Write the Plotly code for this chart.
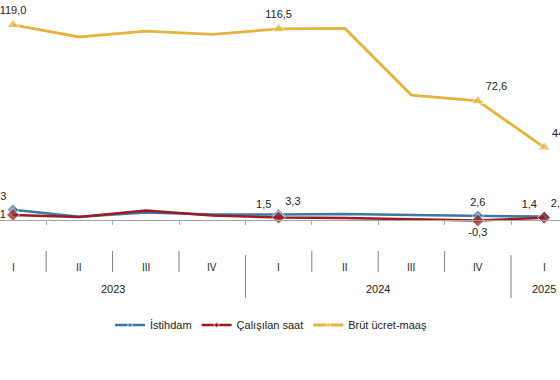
import plotly.graph_objects as go

# ---- data ----
quarters = ["I", "II", "III", "IV", "I", "II", "III", "IV", "I"]
years = ["2023", "2023", "2023", "2023", "2024", "2024", "2024", "2024", "2025"]

istihdam = [6.3, 2.0, 4.6, 3.3, 3.3, 3.6, 3.0, 2.6, 2.1]
calisilan_saat = [3.1, 1.9, 5.8, 2.8, 1.5, 1.2, 0.4, -0.3, 1.4]
brut_ucret = [119.0, 111.6, 115.2, 113.2, 116.5, 116.8, 76.2, 72.6, 44.3]

labelled = [0, 4, 7, 8]  # points that carry a marker and value label

# ---- styles ----
BLUE = "#3B78A8"
RED = "#9B1B1F"
GOLD = "#E6B33C"
FONT = "Liberation Sans, Arial, sans-serif"

W, H = 560, 380
x = list(range(len(quarters)))


def fmt(v):
    return f"{v:.1f}".replace(".", ",")


def lab_text(vals):
    return [fmt(v) if i in labelled else "" for i, v in enumerate(vals)]


def msize(s):
    return [s if i in labelled else 0 for i in range(len(x))]


fig = go.Figure()

fig.add_trace(go.Scatter(
    x=x, y=istihdam, name="İstihdam", mode="lines+markers+text",
    line=dict(color=BLUE, width=2.5),
    marker=dict(symbol="diamond", size=msize(9), color=BLUE),
    text=lab_text(istihdam),
    textposition=["top left", "top center", "top center", "top center", "top right",
                  "top center", "top center", "top center", "top right"],
    textfont=dict(family=FONT, size=11, color="#222"),
    cliponaxis=False,
))
fig.add_trace(go.Scatter(
    x=x, y=calisilan_saat, name="Çalışılan saat", mode="lines+markers+text",
    line=dict(color=RED, width=2.5),
    marker=dict(symbol="diamond", size=msize(10), color=RED),
    text=lab_text(calisilan_saat),
    textposition=["middle left", "top center", "top center", "top center", "top left",
                  "top center", "top center", "bottom center", "top left"],
    textfont=dict(family=FONT, size=11, color="#222"),
    cliponaxis=False,
))
fig.add_trace(go.Scatter(
    x=x, y=brut_ucret, name="Brüt ücret-maaş", mode="lines+markers+text",
    line=dict(color=GOLD, width=2.8),
    marker=dict(symbol="triangle-up", size=msize(11), color=GOLD),
    text=lab_text(brut_ucret),
    textposition=["top center", "top center", "top center", "top center", "top center",
                  "top center", "top center", "top right", "top right"],
    textfont=dict(family=FONT, size=11, color="#222"),
    cliponaxis=False,
))

# pixel layout helpers (margins are zero, so paper == pixels)
def py(p):
    return 1 - p / H

zero_px = 220
px_per_unit = 1.64
cat_px0, cat_step = 13, 66.4

annotations = []
for i, q in enumerate(quarters):
    annotations.append(dict(x=i, y=py(267), xref="x", yref="paper", text=q,
                            xanchor="center", yanchor="middle", showarrow=False,
                            font=dict(family=FONT, size=10, color="#222")))
groups = {}
for i, yv in enumerate(years):
    groups.setdefault(yv, []).append(i)
for yv, idx in groups.items():
    annotations.append(dict(x=sum(idx) / len(idx), y=py(289), xref="x", yref="paper", text=yv,
                            xanchor="center", yanchor="middle", showarrow=False,
                            font=dict(family=FONT, size=11, color="#222")))

shapes = []
for i in range(len(x) - 1):
    b = i + 0.5
    if years[i] != years[i + 1]:
        y0, y1 = py(255), py(298)
    else:
        y0, y1 = py(251), py(272)
    shapes.append(dict(type="line", xref="x", yref="paper", x0=b, x1=b, y0=y0, y1=y1,
                       line=dict(color="#7F7F7F", width=1)))

fig.update_layout(
    width=W, height=H,
    margin=dict(l=0, r=0, t=0, b=0),
    paper_bgcolor="white", plot_bgcolor="white",
    font=dict(family=FONT, size=10, color="#222"),
    xaxis=dict(
        range=[-cat_px0 / cat_step, (W - cat_px0) / cat_step],
        anchor="free", position=py(zero_px),
        showline=True, linecolor="#A6A6A6", linewidth=1,
        ticks="outside", ticklen=4, tickcolor="#A6A6A6",
        tickvals=[i + 0.5 for i in range(len(x) - 1)],
        showticklabels=False, showgrid=False, zeroline=False,
    ),
    yaxis=dict(
        range=[-(H - zero_px) / px_per_unit, zero_px / px_per_unit],
        showticklabels=False, showgrid=False, zeroline=False, showline=False, ticks="",
    ),
    showlegend=True,
    legend=dict(orientation="h", x=110 / W, y=py(325), xanchor="left", yanchor="middle",
                font=dict(family=FONT, size=11, color="#222"), bgcolor="rgba(0,0,0,0)"),
    annotations=annotations,
    shapes=shapes,
)

fig.write_html("out.html", config={"displayModeBar": False},
               post_script="document.body.style.margin='0';document.body.style.overflow='hidden';")
